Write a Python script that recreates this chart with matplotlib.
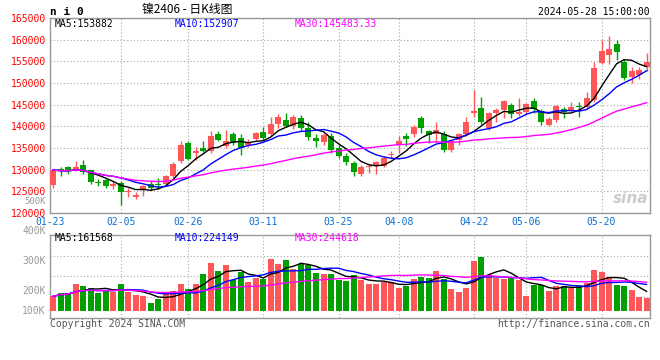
import matplotlib
matplotlib.use("Agg")
import matplotlib.pyplot as plt
import numpy as np
import pandas as pd

# trading days shown on the chart (ni2406 daily K)
dates = ['01-23', '01-24', '01-25', '01-26', '01-29', '01-30', '01-31',
         '02-01', '02-02', '02-05', '02-06', '02-07', '02-08', '02-19', '02-20',
         '02-21', '02-22', '02-23', '02-26', '02-27', '02-28', '02-29',
         '03-01', '03-04', '03-05', '03-06', '03-07', '03-08', '03-11', '03-12',
         '03-13', '03-14', '03-15', '03-18', '03-19', '03-20', '03-21', '03-22',
         '03-25', '03-26', '03-27', '03-28', '03-29',
         '04-01', '04-02', '04-03', '04-08', '04-09', '04-10', '04-11', '04-12',
         '04-15', '04-16', '04-17', '04-18', '04-19', '04-22', '04-23', '04-24',
         '04-25', '04-26', '04-29', '04-30',
         '05-06', '05-07', '05-08', '05-09', '05-10', '05-13', '05-14', '05-15',
         '05-16', '05-17', '05-20', '05-21', '05-22', '05-23', '05-24', '05-27', '05-28']
tick_dates = ['01-23', '02-05', '02-26', '03-11', '03-25', '04-08', '04-22', '05-06', '05-20']

opens = [126450, 130100, 130570, 130040, 131190, 129820, 127100, 127680, 126220, 126830,
         124840, 123700, 125460, 126770, 126700, 126600, 128440, 132110, 136070, 133870,
         135090, 134240, 138290, 135390, 138130, 137310, 135780, 137080, 138750, 138130,
         140590, 141500, 140130, 142030, 139600, 137310, 136300, 137680, 135020, 133090,
         131580, 128900, 130700, 130800, 130800, 133300, 135780, 137680, 138220, 142030,
         138820, 138220, 138290, 134630, 136850, 138220, 143180, 144180, 139600, 143040,
         143800, 144940, 142880, 143270, 145860, 143570, 140360, 141500, 143960, 143800,
         144500, 144550, 146090, 154730, 156400, 158920, 154870, 151430, 151820, 153720]
closes = [129900, 129650, 129650, 130570, 129420, 127130, 126950, 126220, 126770, 124840,
          125070, 124150, 126310, 125850, 126500, 128510, 131420, 135780, 132500, 134330,
          134240, 137840, 136920, 136690, 136170, 135020, 136300, 138520, 137380, 140590,
          142260, 140130, 142120, 139600, 137540, 136530, 138060, 134630, 133090, 131720,
          129420, 130660, 130900, 131720, 132730, 133500, 136690, 136990, 139740, 139510,
          138060, 139210, 134470, 136530, 138290, 141110, 143640, 140890, 143040, 143800,
          145860, 142810, 143270, 145170, 143960, 141110, 141730, 144710, 143410, 144550,
          144350, 146480, 153350, 157390, 157780, 157160, 151200, 152740, 152970, 154800]
highs = [130000, 130570, 130960, 132100, 132340, 130000, 127750, 127750, 127300, 127360,
         125690, 124840, 126540, 127360, 127980, 128700, 131700, 136690, 136530, 135250,
         136690, 138820, 138820, 139050, 138590, 138130, 137150, 138590, 139830, 142120,
         142880, 143180, 142650, 142650, 140980, 138220, 138450, 138450, 135610, 133870,
         131950, 131030, 131350, 132100, 133090, 134400, 137680, 138450, 140200, 142420,
         139210, 140890, 138820, 136920, 138450, 142260, 148380, 146840, 143410, 144180,
         146090, 145470, 146480, 145470, 146480, 143960, 142120, 144940, 144550, 145700,
         145700, 147990, 154870, 160000, 160760, 159840, 155650, 153580, 153720, 156930]
lows = [125850, 128440, 129060, 129650, 129060, 126600, 126150, 125700, 125460, 121860,
        123700, 123240, 123920, 125400, 125610, 126400, 128100, 131580, 132300, 132340,
        134000, 133870, 136530, 135020, 135780, 133480, 135250, 136760, 136760, 137840,
        139600, 139830, 139500, 138820, 136920, 135250, 135610, 133870, 132730, 131190,
        128510, 128510, 129290, 128900, 130570, 132500, 133870, 135390, 137600, 138450,
        136160, 136300, 134010, 134000, 135780, 137840, 142260, 140590, 139210, 140890,
        141890, 141890, 142420, 142800, 143040, 140360, 140100, 141110, 141890, 143410,
        142260, 144180, 145700, 154270, 154500, 155260, 150680, 150050, 151000, 152800]
volumes = [123, 151, 151, 224, 207, 191, 151, 179, 160, 224,
           160, 132, 126, 67, 103, 140, 168, 224, 182, 224,
           308, 403, 333, 386, 263, 328, 241, 280, 271, 434,
           397, 426, 350, 397, 384, 319, 308, 313, 263, 252,
           300, 263, 224, 224, 244, 241, 191, 210, 266, 286,
           275, 333, 271, 182, 160, 191, 420, 454, 300, 280,
           271, 280, 263, 123, 216, 216, 165, 210, 210, 193,
           216, 235, 342, 325, 286, 216, 207, 174, 118, 109]  # thousands

price_ticks = [120000, 125000, 130000, 135000, 140000, 145000, 150000, 155000, 160000, 165000]
vol_labels = ['400K', '300K', '200K', '100K']
ma_price_text = ['MA5:153882', 'MA10:152907', 'MA30:145483.33']
ma_vol_text = ['MA5:161568', 'MA10:224149', 'MA30:244618']

RED = '#ff5757'
GREEN = '#00a000'
MA_COLORS = ['black', '#0000ff', '#ff00ff']
GRID = dict(color='#a8a8a8', linestyle=(0, (1, 2)), linewidth=0.8)
MONO = 'DejaVu Sans Mono'

o = np.array(opens); c = np.array(closes)
h = np.array(highs); l = np.array(lows)
v = np.array(volumes) * 1000
x = np.arange(len(dates))
up = c >= o
cols = np.where(up, RED, GREEN)

fig = plt.figure(figsize=(6.6, 3.6), dpi=100)
ax1 = fig.add_axes([50 / 660, 147 / 360, 600 / 660, 195 / 360])
ax2 = fig.add_axes([50 / 660, 42 / 360, 600 / 660, 83.3 / 360])
xlo, xhi = -0.4, 79.45

# --- price panel
ax1.vlines(x, l, h, colors=cols, linewidth=1, zorder=2)
ax1.bar(x, np.maximum(np.abs(c - o), 230), bottom=np.minimum(o, c), width=0.8,
        color=cols, linewidth=0, zorder=3)
closes_s = pd.Series(c, dtype=float)
for n, col in zip([5, 10, 30], MA_COLORS):
    ax1.plot(x, closes_s.rolling(n, min_periods=1).mean(), color=col, linewidth=1, zorder=4)
ax1.set_ylim(120000, 165000)
ax1.set_yticks(price_ticks)
ax1.set_yticklabels([str(t) for t in price_ticks])
ax1.grid(axis='y', **GRID)

# --- volume panel
ax2.bar(x, v, width=0.8, color=cols, linewidth=0, zorder=3)
vol_s = pd.Series(v, dtype=float)
for n, col in zip([5, 10, 30], MA_COLORS):
    ax2.plot(x, vol_s.rolling(n, min_periods=1).mean(), color=col, linewidth=1, zorder=4)
vlo, vhi = -58800, 640900
ax2.set_ylim(vlo, vhi)
ax2.set_yticks([vlo + (vhi - vlo) * f for f in (0.25, 0.5, 0.75)])
ax2.set_yticklabels([])
ax2.grid(axis='y', **GRID)
for lab, f in zip(vol_labels, [1.044, 0.684, 0.324, 0.084]):
    ax2.text(-0.007, f, lab, transform=ax2.transAxes, ha='right', va='center',
             color='#999999', fontsize=7, family=MONO)
ax1.text(-0.007, 0.062, '500K', transform=ax1.transAxes, ha='right', va='center_baseline',
         color='#999999', fontsize=6.5, family=MONO)

ticks = [dates.index(d) for d in tick_dates]
tick_pos = [xlo if t == 0 else t for t in ticks]
for ax in (ax1, ax2):
    ax.set_xlim(xlo, xhi)
    ax.set_xticks(tick_pos)
    ax.grid(axis='x', **GRID)
    ax.set_axisbelow(True)
    for s in ax.spines.values():
        s.set_color('#999999')
        s.set_linewidth(1)
    ax.tick_params(length=0)
ax1.set_xticklabels(tick_dates)
ax2.set_xticklabels([])
ax1.tick_params(axis='x', colors='#0a6fd0', labelsize=7, pad=3)
ax1.tick_params(axis='y', colors='red', labelsize=7, pad=3)
for lab in ax1.get_xticklabels() + ax1.get_yticklabels():
    lab.set_family(MONO)

for txt, xp, col in zip(ma_price_text, [0.008, 0.208, 0.408], MA_COLORS):
    ax1.text(xp, 0.969, txt, transform=ax1.transAxes, color=col, fontsize=7,
             family=MONO, va='center', ha='left')
for txt, xp, col in zip(ma_vol_text, [0.008, 0.208, 0.408], MA_COLORS):
    ax2.text(xp, 0.957, txt, transform=ax2.transAxes, color=col, fontsize=7,
             family=MONO, va='center', ha='left')

ax1.text(0.997, 0.035, 'sina', transform=ax1.transAxes, ha='right', va='bottom',
         color='#cccccc', fontsize=11, fontweight='bold', style='italic')

# header and footer
fig.text(50 / 660, 1 - 12 / 360, 'n i 0', fontsize=8, fontweight='bold', family=MONO,
         va='center', ha='left')
fig.text(142 / 660, 1 - 10 / 360, '镍2406 - 日K线图', fontsize=8.5,
         family=['Noto Sans CJK SC', 'DejaVu Sans'], va='center', ha='left')
fig.text(650 / 660, 1 - 12 / 360, '2024-05-28 15:00:00', fontsize=7, family=MONO,
         va='center', ha='right')
fig.text(50 / 660, 1 - 324 / 360, 'Copyright 2024 SINA.COM', fontsize=7, family=MONO,
         color='#555555', va='center', ha='left')
fig.text(650 / 660, 1 - 324 / 360, 'http://finance.sina.com.cn', fontsize=7, family=MONO,
         color='#555555', va='center', ha='right')

fig.savefig('out.png', dpi=100, facecolor='white')
